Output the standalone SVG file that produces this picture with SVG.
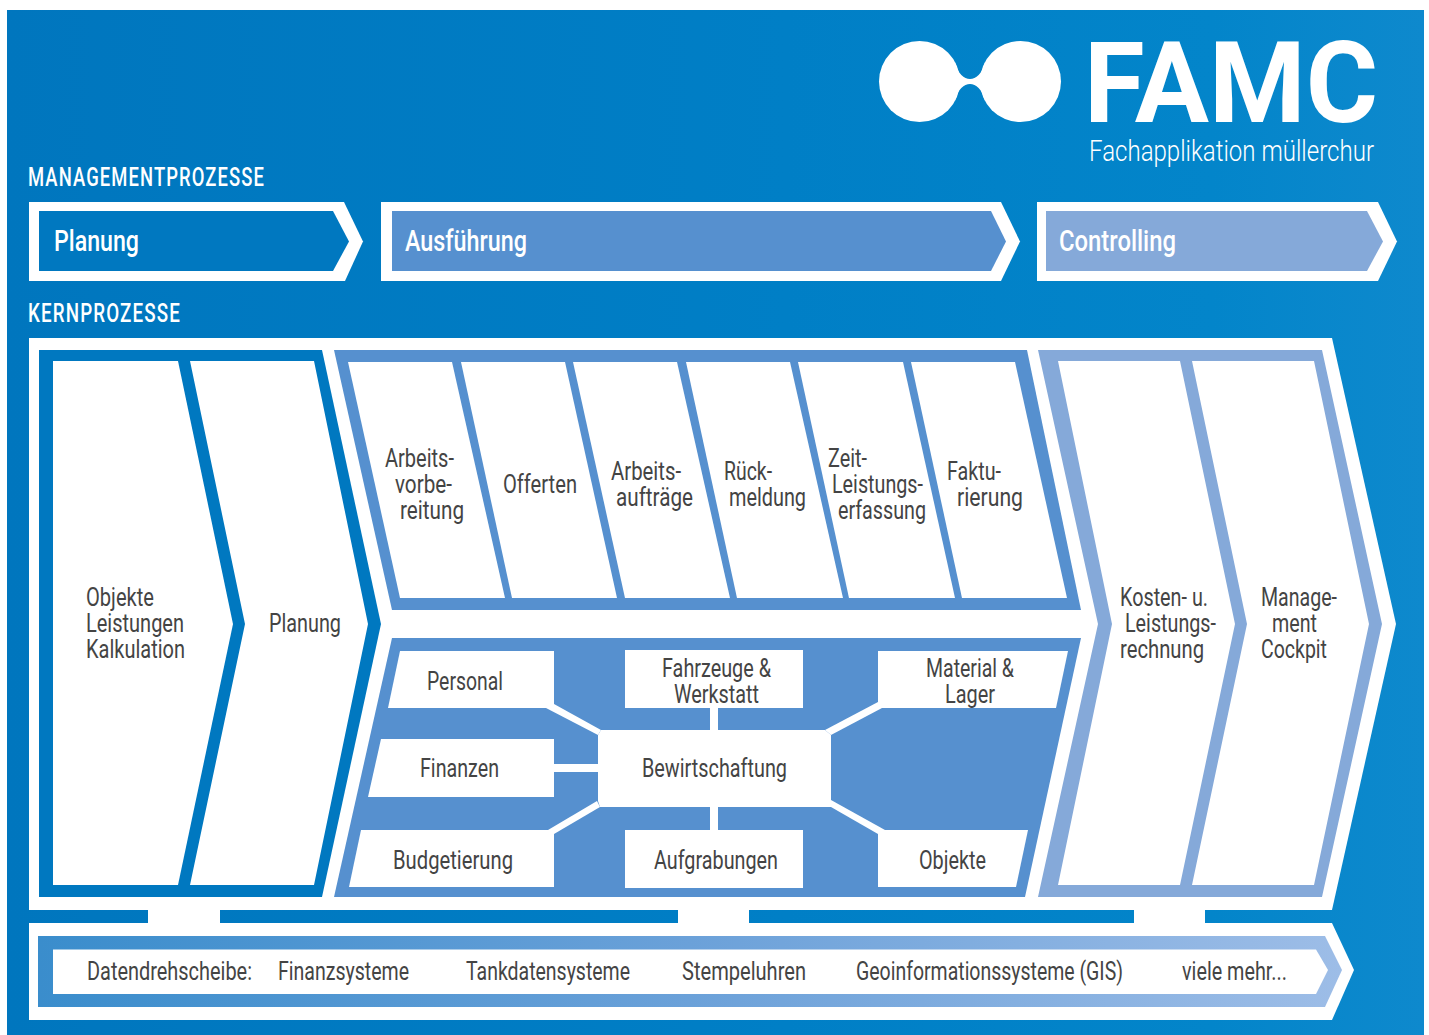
<svg xmlns="http://www.w3.org/2000/svg" width="1429" height="1035" viewBox="0 0 1429 1035">
<defs>
<linearGradient id="bg" gradientUnits="userSpaceOnUse" x1="7" y1="0" x2="1424" y2="0"><stop offset="0" stop-color="#0076be"/><stop offset="0.55" stop-color="#007fc6"/><stop offset="0.85" stop-color="#0385ca"/><stop offset="1" stop-color="#0e89cd"/></linearGradient>
<linearGradient id="hub" x1="0" y1="0" x2="1" y2="0"><stop offset="0" stop-color="#3a8dcc"/><stop offset="0.5" stop-color="#6ba1d9"/><stop offset="1" stop-color="#9dbde7"/></linearGradient>
</defs>
<style>
.w{fill:#fff}
.d{fill:#0078c0}
.m{fill:#5690cf}
.l{fill:#85a9d9}
text{font-family:Roboto,"Liberation Sans",sans-serif}
.t{font-size:25px;fill:#444}
.s{font-size:25px;font-weight:500;fill:#fff;letter-spacing:1.5px}
.b{font-size:29px;font-weight:500;fill:#fff}
</style>
<rect width="1429" height="1035" fill="#fff"/>
<rect x="7" y="10" width="1417" height="1025" fill="url(#bg)"/>
<g id="logo">
<circle class="w" cx="919.5" cy="81.5" r="40.5"/>
<circle class="w" cx="1020.5" cy="81.5" r="40.5"/>
<path class="w" d="M955,62C958,74 964,79 970,79C976,79 982,74 985,62L985,101C982,89 976,84 970,84C964,84 958,89 955,101Z"/>
<text x="1084" y="122" font-size="113" font-weight="700" fill="#fff" textLength="294" lengthAdjust="spacingAndGlyphs">FAMC</text>
<text x="1089" y="161" font-size="29" font-weight="300" fill="#fff" textLength="285" lengthAdjust="spacingAndGlyphs">Fachapplikation müllerchur</text>
</g>
<text class="s" x="28" y="186" textLength="237" lengthAdjust="spacingAndGlyphs">MANAGEMENTPROZESSE</text>
<text class="s" x="28" y="322" textLength="153" lengthAdjust="spacingAndGlyphs">KERNPROZESSE</text>
<g id="mgmt-planung">
<polygon class="w" points="29,202 344,202 363,241.5 345,281 29,281"/>
<polygon class="d" points="39,211 333,211 349,241.5 333,271 39,271"/>
<text class="b" x="54" y="251" textLength="85" lengthAdjust="spacingAndGlyphs">Planung</text>
</g>
<g id="mgmt-ausfuehrung">
<polygon class="w" points="381,202 1001,202 1020,241.5 1001,281 381,281"/>
<polygon class="m" points="392,211 991,211 1006,241.5 991,271 392,271"/>
<text class="b" x="405" y="251" textLength="122" lengthAdjust="spacingAndGlyphs">Ausführung</text>
</g>
<g id="mgmt-controlling">
<polygon class="w" points="1037,202 1378,202 1397,241.5 1378,281 1037,281"/>
<polygon class="l" points="1046,211 1367,211 1383,241.5 1367,271 1046,271"/>
<text class="b" x="1059" y="251" textLength="117" lengthAdjust="spacingAndGlyphs">Controlling</text>
</g>
<g id="kern-frame">
<polygon class="w" points="29,338 1332,338 1396,624 1332,910 29,910"/>
<rect class="w" x="148" y="909" width="72" height="15"/>
<rect class="w" x="678" y="909" width="71" height="15"/>
<rect class="w" x="1134" y="909" width="71" height="15"/>
</g>
<g id="block-planung">
<polygon class="d" points="39,350 322,350 381,624 322,897 39,897"/>
<polygon class="w" points="53,361 178,361 233,624 178,885 53,885"/>
<polygon class="w" points="190,361 314,361 368,624 314,885 190,885 245,624"/>
<text class="t" x="86" y="606" textLength="68" lengthAdjust="spacingAndGlyphs">Objekte</text>
<text class="t" x="86" y="632" textLength="98" lengthAdjust="spacingAndGlyphs">Leistungen</text>
<text class="t" x="86" y="658" textLength="99" lengthAdjust="spacingAndGlyphs">Kalkulation</text>
<text class="t" x="269" y="632" textLength="72" lengthAdjust="spacingAndGlyphs">Planung</text>
</g>
<g id="block-ausfuehrung">
<polygon class="m" points="334,350 1027,350 1081,610 392,610"/>
<polygon class="w" points="348,362 452,362 505,598 400,598"/>
<polygon class="w" points="461,362 565,362 617,598 512,598"/>
<polygon class="w" points="573,362 677,362 730,598 625,598"/>
<polygon class="w" points="686,362 790,362 843,598 737,598"/>
<polygon class="w" points="798,362 903,362 955,598 849,598"/>
<polygon class="w" points="911,362 1015,362 1067,598 962,598"/>
<text class="t" x="385" y="467" textLength="69" lengthAdjust="spacingAndGlyphs">Arbeits-</text>
<text class="t" x="395" y="493" textLength="57" lengthAdjust="spacingAndGlyphs">vorbe-</text>
<text class="t" x="400" y="519" textLength="64" lengthAdjust="spacingAndGlyphs">reitung</text>
<text class="t" x="503" y="493" textLength="74" lengthAdjust="spacingAndGlyphs">Offerten</text>
<text class="t" x="611" y="480" textLength="70" lengthAdjust="spacingAndGlyphs">Arbeits-</text>
<text class="t" x="616" y="506" textLength="77" lengthAdjust="spacingAndGlyphs">aufträge</text>
<text class="t" x="724" y="480" textLength="48" lengthAdjust="spacingAndGlyphs">Rück-</text>
<text class="t" x="729" y="506" textLength="77" lengthAdjust="spacingAndGlyphs">meldung</text>
<text class="t" x="828" y="467" textLength="39" lengthAdjust="spacingAndGlyphs">Zeit-</text>
<text class="t" x="832" y="493" textLength="91" lengthAdjust="spacingAndGlyphs">Leistungs-</text>
<text class="t" x="838" y="519" textLength="88" lengthAdjust="spacingAndGlyphs">erfassung</text>
<text class="t" x="947" y="480" textLength="54" lengthAdjust="spacingAndGlyphs">Faktu-</text>
<text class="t" x="957" y="506" textLength="66" lengthAdjust="spacingAndGlyphs">rierung</text>
</g>
<polygon id="block-bewirtschaftung" class="m" points="392,638 1081,638 1025,897 334,897"/>
<g id="connectors">
<polygon class="w" points="546,708 554,704 601,730 598,735"/>
<rect class="w" x="710" y="708" width="8" height="22"/>
<polygon class="w" points="878,702 882,708 831,735 825,730"/>
<rect class="w" x="554" y="764" width="44" height="8"/>
<polygon class="w" points="597,801 600,807 554,834 548,830"/>
<rect class="w" x="710" y="807" width="8" height="23"/>
<polygon class="w" points="831,800 831,807 878,834 885,830"/>
</g>
<g id="n-personal"><polygon class="w" points="400,651 554,651 554,708 388,708"/><text class="t" x="427" y="690" textLength="76" lengthAdjust="spacingAndGlyphs">Personal</text></g>
<g id="n-fahrzeuge"><rect class="w" x="625" y="650" width="178" height="58"/><text class="t" x="662" y="677" textLength="109" lengthAdjust="spacingAndGlyphs">Fahrzeuge &amp;</text><text class="t" x="674" y="703" textLength="85" lengthAdjust="spacingAndGlyphs">Werkstatt</text></g>
<g id="n-material"><polygon class="w" points="878,651 1068,651 1056,708 878,708"/><text class="t" x="926" y="677" textLength="88" lengthAdjust="spacingAndGlyphs">Material &amp;</text><text class="t" x="945" y="703" textLength="50" lengthAdjust="spacingAndGlyphs">Lager</text></g>
<g id="n-finanzen"><polygon class="w" points="381,739 554,739 554,797 368,797"/><text class="t" x="420" y="777" textLength="79" lengthAdjust="spacingAndGlyphs">Finanzen</text></g>
<g id="n-bewirtschaftung"><polygon class="w" points="601,730 825,730 831,735 831,807 600,807 598,801 598,735"/><text class="t" x="642" y="777" textLength="145" lengthAdjust="spacingAndGlyphs">Bewirtschaftung</text></g>
<g id="n-budgetierung"><polygon class="w" points="361,830 554,830 554,887 349,887"/><text class="t" x="393" y="869" textLength="120" lengthAdjust="spacingAndGlyphs">Budgetierung</text></g>
<g id="n-aufgrabungen"><rect class="w" x="625" y="830" width="178" height="58"/><text class="t" x="654" y="869" textLength="124" lengthAdjust="spacingAndGlyphs">Aufgrabungen</text></g>
<g id="n-objekte"><polygon class="w" points="878,830 1028,830 1016,887 878,887"/><text class="t" x="919" y="869" textLength="67" lengthAdjust="spacingAndGlyphs">Objekte</text></g>
<g id="block-controlling">
<polygon class="l" points="1038,350 1322,350 1382,624 1322,897 1038,897 1098,624"/>
<polygon class="w" points="1058,361 1180,361 1235,624 1180,885 1058,885 1112,624"/>
<polygon class="w" points="1192,361 1314,361 1369,624 1314,885 1192,885 1247,624"/>
<text class="t" x="1120" y="606" textLength="88" lengthAdjust="spacingAndGlyphs">Kosten- u.</text>
<text class="t" x="1125" y="632" textLength="91" lengthAdjust="spacingAndGlyphs">Leistungs-</text>
<text class="t" x="1120" y="658" textLength="84" lengthAdjust="spacingAndGlyphs">rechnung</text>
<text class="t" x="1261" y="606" textLength="76" lengthAdjust="spacingAndGlyphs">Manage-</text>
<text class="t" x="1272" y="632" textLength="45" lengthAdjust="spacingAndGlyphs">ment</text>
<text class="t" x="1261" y="658" textLength="66" lengthAdjust="spacingAndGlyphs">Cockpit</text>
</g>
<g id="datendrehscheibe">
<polygon class="w" points="29,923 1332,923 1354,970 1332,1020 29,1020"/>
<polygon fill="url(#hub)" points="38,936 1325,936 1342,970 1325,1007 38,1007"/>
<polygon class="w" points="53,949.500 1316,949.500 1328,970 1316,994 53,994"/>
<text class="t" x="87" y="980" textLength="165" lengthAdjust="spacingAndGlyphs">Datendrehscheibe:</text>
<text class="t" x="278" y="980" textLength="131" lengthAdjust="spacingAndGlyphs">Finanzsysteme</text>
<text class="t" x="466" y="980" textLength="164" lengthAdjust="spacingAndGlyphs">Tankdatensysteme</text>
<text class="t" x="682" y="980" textLength="124" lengthAdjust="spacingAndGlyphs">Stempeluhren</text>
<text class="t" x="856" y="980" textLength="267" lengthAdjust="spacingAndGlyphs">Geoinformationssysteme (GIS)</text>
<text class="t" x="1182" y="980" textLength="105" lengthAdjust="spacingAndGlyphs">viele mehr...</text>
</g>
</svg>
